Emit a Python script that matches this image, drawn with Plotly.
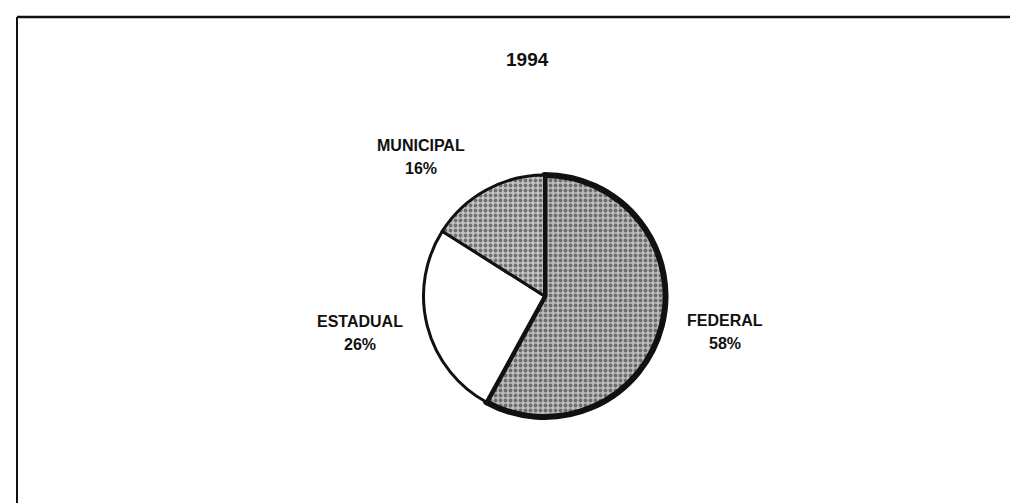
import plotly.graph_objects as go

# ---- data ----
title_text = "1994"
categories = ["FEDERAL", "ESTADUAL", "MUNICIPAL"]
shares = [58, 26, 16]

# ---- styling / layout (kept separate from data) ----
W, H = 1018, 503
FONT = "Liberation Sans, Arial, sans-serif"
slice_fill = ["#bdbdbd", "#ffffff", "#c4c4c4"]
slice_pattern = [".", "", "."]
slice_line_w = [6, 3, 3]

pie_cx, pie_cy, pie_r = 536.5, 288, 121
label_pos = {
    "FEDERAL": (717, 312),
    "ESTADUAL": (352, 313),
    "MUNICIPAL": (413, 137),
}
line_gap = 23


def px(x):
    return x / W


def py(y):
    return 1 - y / H


fig = go.Figure(
    go.Pie(
        labels=categories,
        values=shares,
        sort=False,
        direction="clockwise",
        rotation=0,
        textinfo="none",
        hoverinfo="label+percent",
        showlegend=False,
        marker=dict(
            colors=slice_fill,
            line=dict(color="#111111", width=slice_line_w),
            pattern=dict(
                shape=slice_pattern,
                fgcolor="#1e1e1e",
                bgcolor=slice_fill,
                size=5,
                solidity=0.45,
                fillmode="overlay",
            ),
        ),
        domain=dict(
            x=[px(pie_cx - pie_r), px(pie_cx + pie_r)],
            y=[py(pie_cy + pie_r), py(pie_cy - pie_r)],
        ),
    )
)

total = sum(shares)
annotations = []
for cat, val in zip(categories, shares):
    lx, ly = label_pos[cat]
    annotations.append(dict(
        text=f"<b>{cat}</b>", x=px(lx), y=py(ly), xref="paper", yref="paper",
        showarrow=False, xanchor="center", yanchor="middle",
        font=dict(family=FONT, size=16, color="#111111"),
    ))
    annotations.append(dict(
        text=f"<b>{round(100 * val / total)}%</b>", x=px(lx), y=py(ly + line_gap),
        xref="paper", yref="paper",
        showarrow=False, xanchor="center", yanchor="middle",
        font=dict(family=FONT, size=16, color="#111111"),
    ))

annotations.append(dict(
    text=f"<b>{title_text}</b>", x=px(519), y=py(52), xref="paper", yref="paper",
    showarrow=False, xanchor="center", yanchor="middle",
    font=dict(family=FONT, size=19, color="#111111"),
))

shapes = [
    # frame: top, left, faint right
    dict(type="line", xref="paper", yref="paper", x0=px(9), x1=1, y0=py(9), y1=py(9),
         line=dict(color="#111111", width=2.5)),
    dict(type="line", xref="paper", yref="paper", x0=px(9), x1=px(9), y0=py(9), y1=0,
         line=dict(color="#111111", width=2)),
    dict(type="line", xref="paper", yref="paper", x0=px(1014), x1=px(1014), y0=py(9), y1=0,
         line=dict(color="#d8d8d8", width=1)),
]

fig.update_layout(
    width=W, height=H,
    margin=dict(l=0, r=0, t=0, b=0),
    paper_bgcolor="white", plot_bgcolor="white",
    annotations=annotations,
    shapes=shapes,
    font=dict(family=FONT),
)

fig.write_html("out.html")
